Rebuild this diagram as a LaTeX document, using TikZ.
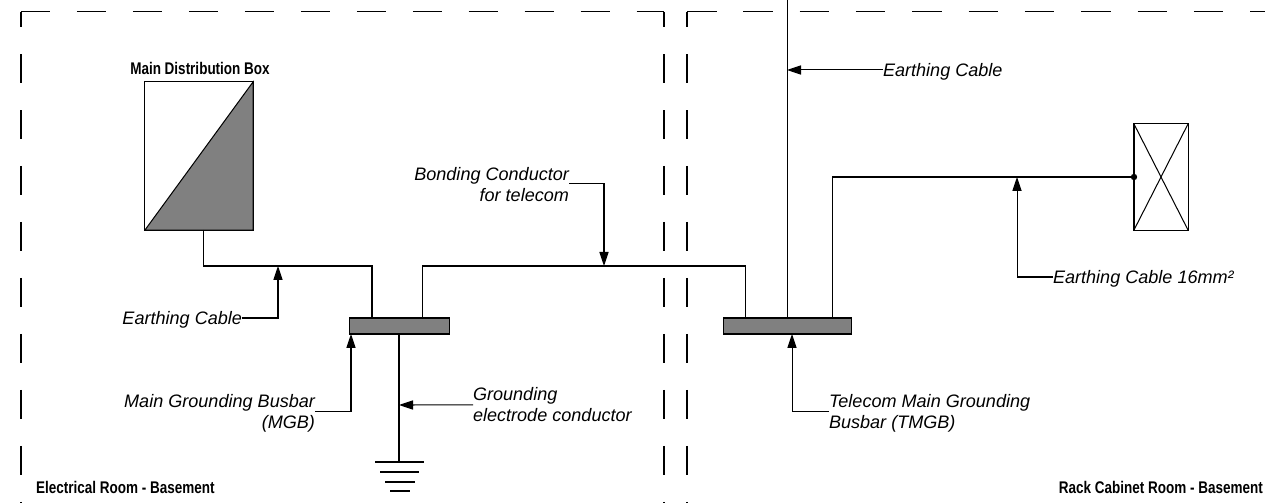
\documentclass[tikz,border=0pt]{standalone}
\usepackage{fontspec}
\usepackage{xcolor}
\setmainfont{Liberation Sans}
\newfontfamily\roomfont[FakeStretch=0.8]{Liberation Sans Bold}
\usetikzlibrary{positioning, arrows.meta}
\definecolor{busgray}{HTML}{808080}

\begin{document}
\begin{tikzpicture}[
    x=0.025cm, y=-0.025cm,
    wire/.style={line width=0.72pt},
    border/.style={line width=0.72pt},
    leader/.style={-{Triangle[length=3.5mm, width=2.3mm]}, line width=0.72pt},
    busbar/.style={rectangle, draw, fill=busgray, line width=0.9pt, minimum height=0.4cm, inner sep=0pt, outer sep=0pt},
    panel/.style={rectangle, draw, line width=0.72pt, inner sep=0pt, outer sep=0pt},
    callout/.style={inner sep=0pt, outer sep=0pt, yshift=-1.2pt, font=\fontsize{12.85}{15}\selectfont\itshape},
    title/.style={inner sep=0pt, outer sep=0pt, font=\roomfont\fontsize{12}{14}\selectfont}
]

\useasboundingbox (0, 0) rectangle (1265, 503);

\draw[border, dash pattern=on 20.6pt off 19.2pt] (21, 12) -- (664, 12);
\draw[border, dash pattern=on 20.6pt off 19.2pt, dash phase=9.9pt] (21, 12) -- (21, 503);
\draw[border, dash pattern=on 20.6pt off 19.2pt, dash phase=9.9pt] (664, 12) -- (664, 503);
\draw[border, dash pattern=on 20.6pt off 19.2pt, dash phase=9.9pt] (687, 12) -- (687, 503);
\draw[border, dash pattern=on 21pt off 19.05pt] (687, 12) -- (1265, 12);

\node[panel, minimum width=2.7cm, minimum height=3.7cm] (mainbox) at (199, 156) {};
\draw[wire, fill=busgray] (mainbox.south west) -- (mainbox.north east) -- (mainbox.south east) -- cycle;
\node[title] (mainlabel) at (200, 68) {Main Distribution Box};

\node[panel, minimum width=1.35cm, minimum height=2.65cm] (rackbox) at (1161, 177) {};
\draw[wire] (rackbox.north west) -- (rackbox.south east);
\draw[wire] (rackbox.south west) -- (rackbox.north east);
\node[circle, fill, inner sep=0pt, minimum size=0.16cm] (rackdot) at (rackbox.west) {};

\node[busbar, minimum width=2.5cm] (mgb) at (399.5, 326) {};
\node[busbar, minimum width=3.2cm] (tmgb) at (787.5, 326) {};

\coordinate (mainout) at (203.5, 230);
\coordinate (mgbleft) at (372, 318);
\coordinate (mgbright) at (422.5, 318);
\coordinate (tmgbleft) at (745, 318);
\coordinate (tmgbmid) at (787, 318);
\coordinate (tmgbright) at (832, 318);
\coordinate (riser) at (787, 0);
\coordinate (mgbdown) at (399, 334);
\coordinate (earthtop) at (399, 462);

\draw[wire] (mainout) -- (203.5, 266) -| (mgbleft);
\draw[wire] (mgbright) -- (422.5, 266) -| (tmgbleft);
\draw[wire] (riser) -- (tmgbmid);
\draw[wire] (tmgbright) |- (rackdot);
\draw[wire] (mgbdown) -- (earthtop);

\draw[wire] (375, 462) -- (424, 462);
\draw[wire] (380, 472) -- (419, 472);
\draw[wire] (385, 482) -- (415, 482);
\draw[wire] (390, 491) -- (410, 491);

\node[callout, anchor=east] (mainearth) at (242, 318) {Earthing Cable};
\node[callout, anchor=east, align=right] (mgblabel) at (315, 411.5) {Main Grounding Busbar\\(MGB)};
\node[callout, anchor=west, align=left] (groundlabel) at (473, 403.3) {Grounding\\electrode conductor};
\node[callout, anchor=east, align=right] (bondlabel) at (569, 183.3) {Bonding Conductor\\for telecom};
\node[callout, anchor=west] (riserlabel) at (883, 70) {Earthing Cable};
\node[callout, anchor=west, align=left] (tmgblabel) at (829, 411.5) {Telecom Main Grounding\\Busbar (TMGB)};
\node[callout, anchor=west] (racklabel) at (1053, 277) {Earthing Cable 16mm²};

\coordinate (mainhit) at (278, 266);
\coordinate (mgbhit) at (351, 334);
\coordinate (groundhit) at (399, 405);
\coordinate (bondhit) at (604, 266);
\coordinate (riserhit) at (787, 70);
\coordinate (tmgbhit) at (792, 334);
\coordinate (rackhit) at (1017, 177);

\draw[leader] ([yshift=1.2pt]mainearth.east) -| (mainhit);
\draw[leader] ([yshift=1.2pt]mgblabel.east) -| (mgbhit);
\draw[leader] (groundlabel.west) -- (groundhit);
\draw[leader] ([yshift=1.2pt]bondlabel.east) -| (bondhit);
\draw[leader] ([yshift=1.2pt]riserlabel.west) -- (riserhit);
\draw[leader] ([yshift=1.2pt]tmgblabel.west) -| (tmgbhit);
\draw[leader] ([yshift=1.2pt]racklabel.west) -| (rackhit);

\node[title, anchor=west] (leftroom) at (36, 487) {Electrical Room - Basement};
\node[title, anchor=east] (rightroom) at (1263, 487) {Rack Cabinet Room - Basement};

\end{tikzpicture}
\end{document}
